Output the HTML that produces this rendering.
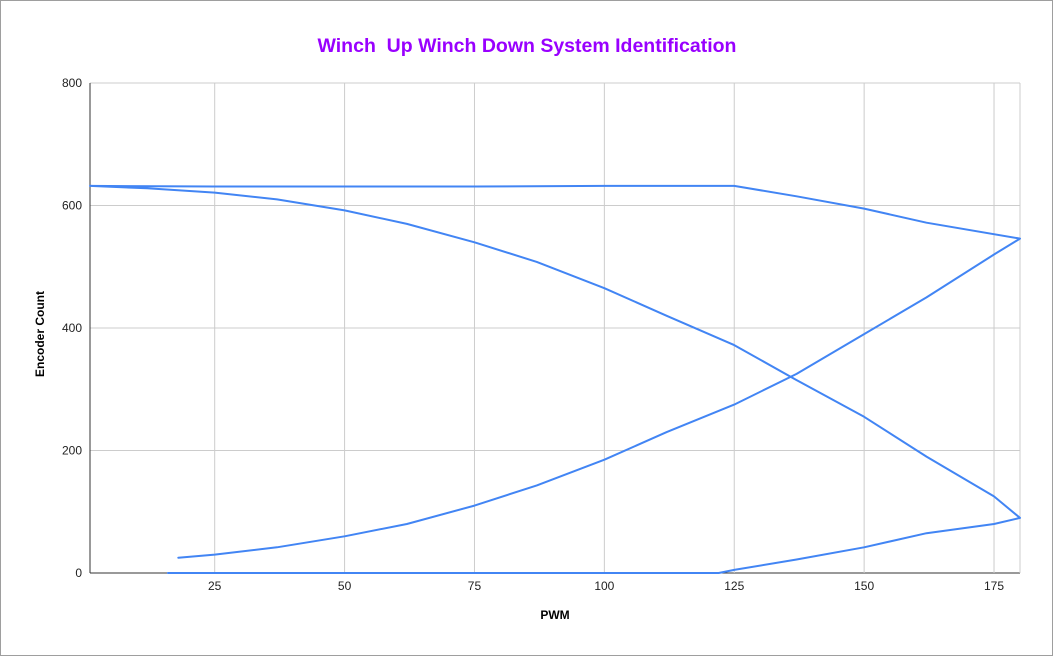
<!DOCTYPE html>
<html><head><meta charset="utf-8"><style>
body{margin:0;background:#fff;}
svg{display:block;font-family:"Liberation Sans",Arial,sans-serif;}
</style></head><body>
<svg id="chart" width="1054" height="657">
<rect x="0.5" y="0.5" width="1052" height="655" fill="#fff" stroke="#9e9e9e"/>
<text x="527" y="52" text-anchor="middle" font-size="19.5" font-weight="bold" fill="#9900ff">Winch&#160; Up Winch Down System Identification</text>
<g id="grid"></g>
<g id="series"></g>
<text x="555" y="619" text-anchor="middle" font-size="12" font-weight="bold">PWM</text>
<text transform="translate(44,334) rotate(-90)" text-anchor="middle" font-size="12" font-weight="bold">Encoder Count</text>
</svg>
<script>
const xTicks=[25,50,75,100,125,150,175];
const yTicks=[0,200,400,600,800];
const pwm=[18,25,37,50,62,75,87,100,112,125,137,150,162,175,180,
 162,150,137,125,100,75,50,25,1,
 12,25,37,50,62,75,87,100,112,125,137,150,162,175,180,
 175,162,150,137,125,122,100,75,50,25,16];
const counts=[25,30,42,60,80,110,143,185,230,275,325,390,450,520,546,
 572,595,615,632,632,631,631,631,632,
 628,621,610,592,570,540,508,465,420,372,315,255,190,125,90,
 80,65,42,22,5,0,0,0,0,0,0];
const L=90,R=1020,T=83,B=573,xMin=1,xMax=180,yMax=800;
const sx=v=>L+(v-xMin)/(xMax-xMin)*(R-L);
const sy=v=>B-v/yMax*(B-T);
const NS="http://www.w3.org/2000/svg";
const g=document.getElementById('grid');
function mk(t,a,p){const e=document.createElementNS(NS,t);for(const k in a)e.setAttribute(k,a[k]);p.appendChild(e);return e;}
yTicks.forEach(v=>{
 const l=mk('line',{x1:L,x2:R,y1:sy(v),y2:sy(v),stroke:v===0?'#333':'#ccc'},g);
 
 
 const t=mk('text',{x:L-8,y:sy(v)+4,'text-anchor':'end','font-size':12,fill:'#222'},g);
 t.textContent=v;
 
 
});
xTicks.forEach(v=>{
 const l=mk('line',{x1:sx(v),x2:sx(v),y1:T,y2:B,stroke:'#ccc'},g);
 
 
 const t=mk('text',{x:sx(v),y:B+17,'text-anchor':'middle','font-size':12,fill:'#222'},g);
 t.textContent=v;
 
 
});
const la=mk('line',{x1:L,x2:L,y1:T,y2:B,stroke:'#333'},g);


const lr=mk('line',{x1:R,x2:R,y1:T,y2:B,stroke:'#ccc'},g);


const d=pwm.map((v,i)=>(i?'L':'M')+sx(v).toFixed(1)+','+sy(counts[i]).toFixed(1)).join('');
const p=mk('path',{d:d,fill:'none',stroke:'#4285f4','stroke-width':2,'stroke-linejoin':'round','stroke-linecap':'round'},document.getElementById('series'));


</script>
</body></html>
